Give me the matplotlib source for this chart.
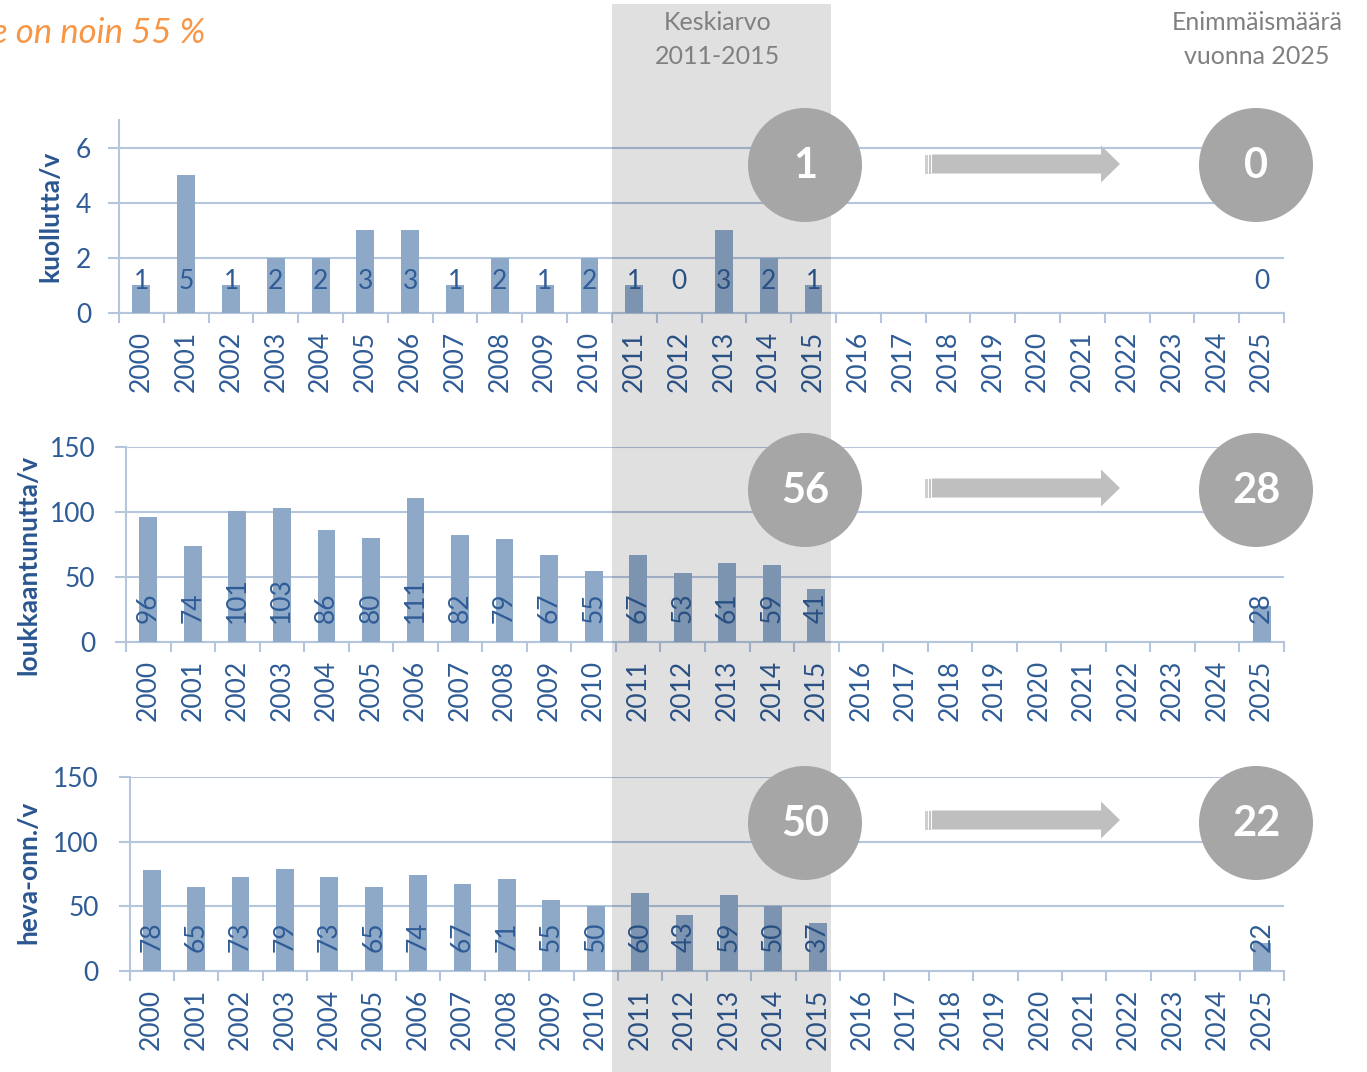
import matplotlib.pyplot as plt
from matplotlib.patches import Rectangle, Circle, Polygon

plt.rcParams['font.family'] = ['Lato', 'DejaVu Sans']

W, H = 1367, 1072

# data
years = list(range(2000, 2026))
kuolleet = [1, 5, 1, 2, 2, 3, 3, 1, 2, 1, 2, 1, 0, 3, 2, 1,
            None, None, None, None, None, None, None, None, None, 0]
loukkaantuneet = [96, 74, 101, 103, 86, 80, 111, 82, 79, 67, 55, 67, 53, 61, 59, 41,
                  None, None, None, None, None, None, None, None, None, 28]
heva_onn = [78, 65, 73, 79, 73, 65, 74, 67, 71, 55, 50, 60, 43, 59, 50, 37,
            None, None, None, None, None, None, None, None, None, 22]
keskiarvot = [1, 56, 50]
enimmaismaarat = [0, 28, 22]
ylabels = ['kuollutta/v', 'loukkaantunutta/v', 'heva-onn./v']

BAR = '#8EA9C8'
GRID = '#B4C5DC'
TXT = '#2F5C96'

fig = plt.figure(figsize=(W / 100, H / 100), dpi=100)


def px_rect(left, right, bottom, top):
    return [left / W, 1 - bottom / H, (right - left) / W, (bottom - top) / H]


panels = [
    # values, rect, ymax, step, ylabel coords, horizontal labels, label offset, ytick pad
    (kuolleet, px_rect(119, 1284, 313, 120), 7, 2, (-0.049, 0.503), True, 23, 12),
    (loukkaantuneet, px_rect(126, 1284, 642, 447), 150, 50, (-0.074, 0.395), False, 14, 14),
    (heva_onn, px_rect(129.5, 1284, 971, 777), 150, 50, (-0.0775, 0.51), False, 13.5, 14),
]

for k, (arvot, rect, ymax, step, lc, vaaka, off, ypad) in enumerate(panels):
    ax = fig.add_axes(rect)
    ax.patch.set_alpha(0)
    xs = [i for i, v in enumerate(arvot) if v is not None]
    hs = [v for v in arvot if v is not None]
    ax.bar(xs, hs, width=0.4, color=BAR, zorder=3)
    for x, v in zip(xs, hs):
        if vaaka:
            ax.annotate(str(v), (x, 0), xytext=(0, off), textcoords='offset points',
                        ha='center', va='center', fontsize=19, color=TXT, zorder=4)
        else:
            ax.annotate(str(v), (x, 0), xytext=(0, off), textcoords='offset points',
                        ha='center', va='bottom', rotation=90, fontsize=19,
                        color=TXT, zorder=4)
    ax.set_xlim(-0.5, len(years) - 0.5)
    ax.set_ylim(0, ymax)
    ax.set_yticks(range(0, ymax + 1, step))
    ax.set_xticks(range(len(years)))
    ax.set_xticklabels(years, rotation=90)
    ax.set_xticks([i - 0.5 for i in range(len(years) + 1)], minor=True)
    ax.tick_params(axis='x', which='major', length=0, pad=13, labelsize=19,
                   labelcolor=TXT)
    ax.tick_params(axis='x', which='minor', length=7, width=1.5, color=GRID)
    ax.tick_params(axis='y', length=8, width=1.5, color=GRID, pad=ypad,
                   labelsize=19, labelcolor=TXT)
    ax.grid(axis='y', color=GRID, lw=1.5, zorder=1)
    ax.set_axisbelow(True)
    for s in ['top', 'right']:
        ax.spines[s].set_visible(False)
    for s in ['left', 'bottom']:
        ax.spines[s].set_color(GRID)
        ax.spines[s].set_linewidth(1.5)
    ax.set_ylabel(ylabels[k], fontsize=19, fontweight='bold', color='#2A5690')
    ax.yaxis.set_label_coords(*lc)

# overlay in pixel coordinates
ov = fig.add_axes([0, 0, 1, 1], zorder=10)
ov.set_xlim(0, W)
ov.set_ylim(H, 0)
ov.axis('off')
ov.patch.set_alpha(0)

ov.add_patch(Rectangle((612, 4), 219, H - 4, facecolor='black', alpha=0.12, lw=0))

ov.text(718, 23, 'Keskiarvo', ha='center', va='center', fontsize=18, color='#808080')
ov.text(718, 57, '2011-2015', ha='center', va='center', fontsize=18, color='#808080')
ov.text(1257, 23, 'Enimmäismäärä', ha='center', va='center', fontsize=18, color='#808080')
ov.text(1257, 57, 'vuonna 2025', ha='center', va='center', fontsize=18, color='#808080')
ov.text(205, 33, 'Vähennystavoite on noin 55 %', ha='right', va='center',
        fontsize=25, style='italic', color='#F79646')

circle_y = [165, 490, 823]
arrow_y = [164, 488, 820]
for cy, ay, a, b in zip(circle_y, arrow_y, keskiarvot, enimmaismaarat):
    for cx, val in [(805, a), (1256, b)]:
        ov.add_patch(Circle((cx, cy), 57, color='#A6A6A6', lw=0))
        ov.text(cx, cy + 1, str(val), ha='center', va='center', fontsize=30,
                fontweight='bold', color='white')
    ov.add_patch(Polygon([(932, ay - 9.5), (1101, ay - 9.5), (1101, ay - 18.5),
                          (1120, ay), (1101, ay + 18.5), (1101, ay + 9.5),
                          (932, ay + 9.5)], closed=True, color='#BFBFBF', lw=0))
    ov.add_patch(Rectangle((925, ay - 9.5), 2.5, 19, color='#CFCFCF', lw=0))
    ov.add_patch(Rectangle((929, ay - 9.5), 2, 19, color='#C4C4C4', lw=0))

fig.savefig('out.png', dpi=100)
